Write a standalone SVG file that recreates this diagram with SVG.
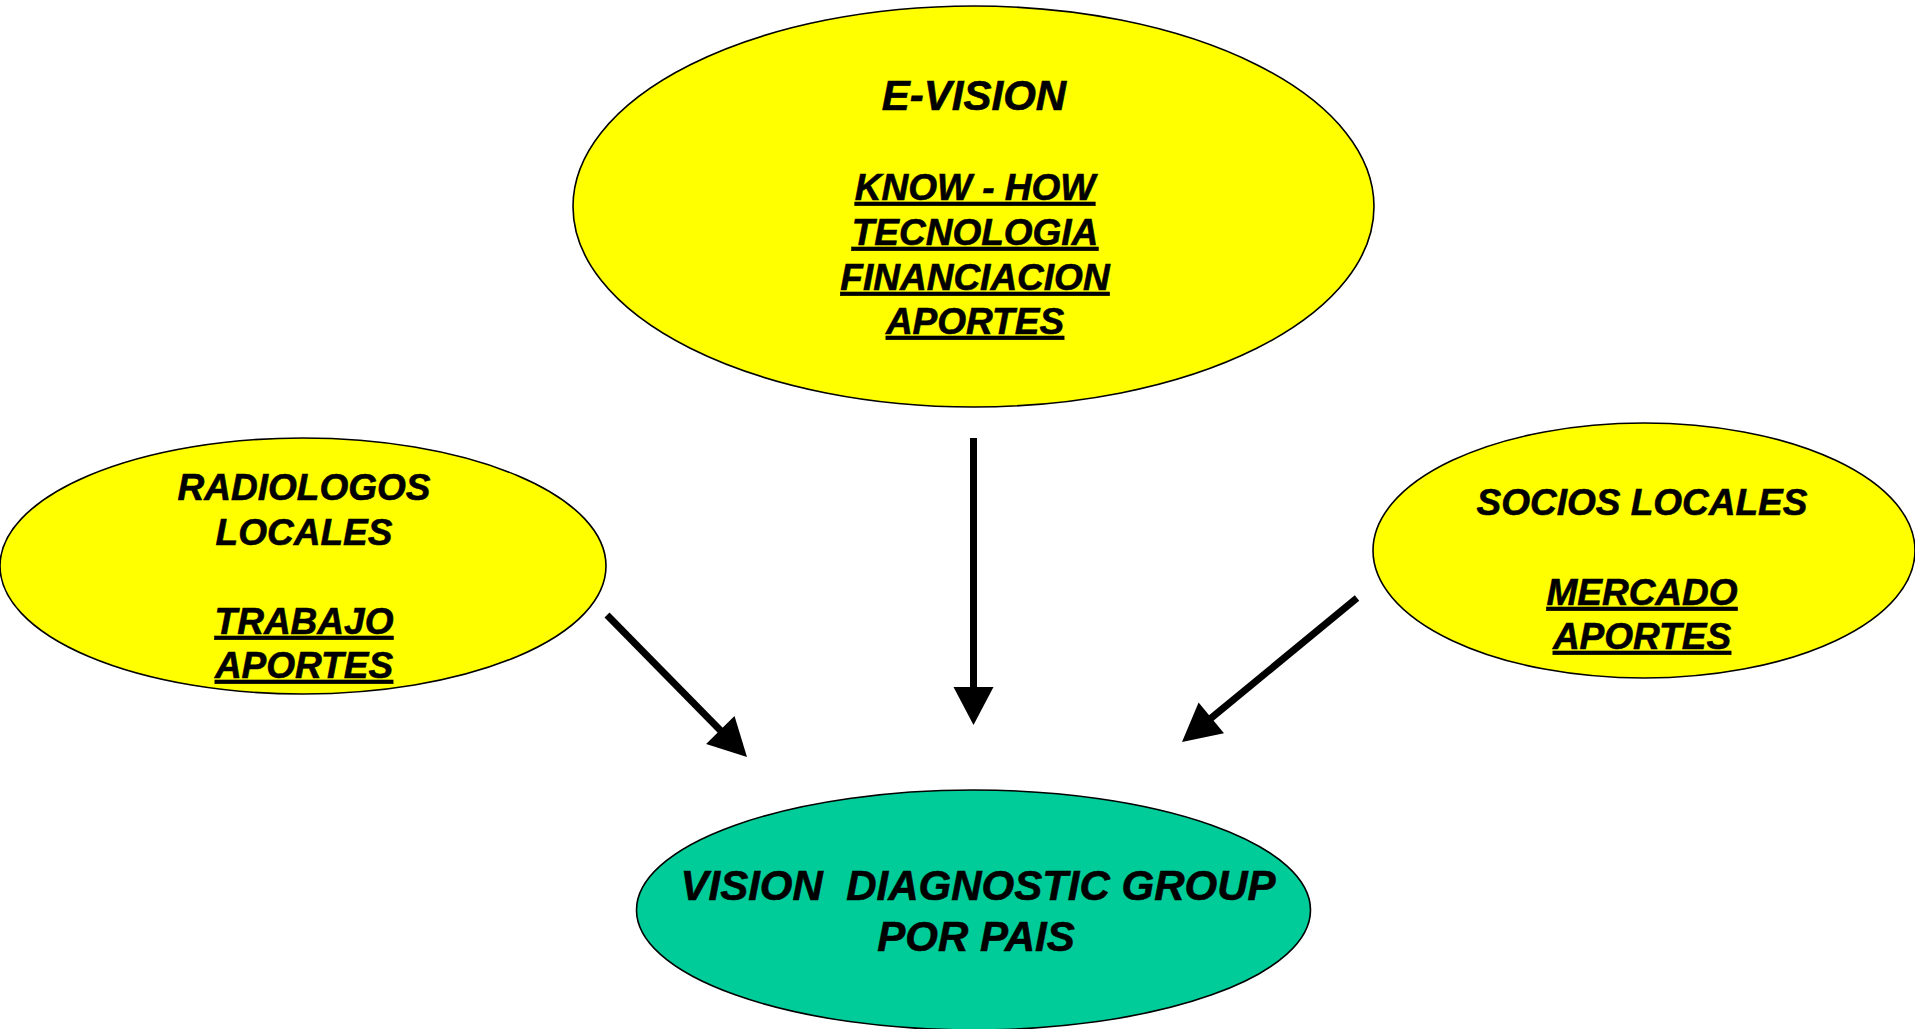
<svg xmlns="http://www.w3.org/2000/svg" width="1915" height="1029" viewBox="0 0 1915 1029">
<style>
.node ellipse { stroke: #000; stroke-width: 1.6; }
.y { fill: #FFFF00; }
.g { fill: #00CC99; }
text { font-family: "Liberation Sans", Arial, sans-serif; font-weight: bold; font-style: italic; fill: #000; stroke: #000; stroke-width: 0.6; text-anchor: middle; white-space: pre; }
.s37 { font-size: 37px; }
.s42 { font-size: 42px; }
.u { text-decoration: underline; }
.conn line { stroke: #000; stroke-width: 7; }
.conn polygon { fill: #000; }
</style>
<rect width="1915" height="1029" fill="#fff"/>
<g id="connectors" class="conn">
  <line x1="973.5" y1="438" x2="973.5" y2="688"/>
  <polygon points="953.5,687 993.5,687 973.5,725"/>
  <line x1="607" y1="615" x2="721" y2="731"/>
  <polygon points="706.1,743.9 734.5,715.9 747,757"/>
  <line x1="1357" y1="598" x2="1210" y2="719"/>
  <polygon points="1198.6,702.5 1224,733.3 1182,742"/>
</g>
<g id="evision" class="node">
  <ellipse class="y" cx="973.5" cy="206.5" rx="400.5" ry="200.5"/>
  <text class="s42" x="974" y="110">E-VISION</text>
  <text class="s37 u" x="975" y="200">KNOW - HOW</text>
  <text class="s37 u" x="975" y="245">TECNOLOGIA</text>
  <text class="s37 u" x="975" y="290">FINANCIACION</text>
  <text class="s37 u" x="975" y="334">APORTES</text>
</g>
<g id="radiologos" class="node">
  <ellipse class="y" cx="303" cy="566" rx="303" ry="128"/>
  <text class="s37" x="304" y="500">RADIOLOGOS</text>
  <text class="s37" x="304" y="545">LOCALES</text>
  <text class="s37 u" x="304" y="634">TRABAJO</text>
  <text class="s37 u" x="304" y="678">APORTES</text>
</g>
<g id="socios" class="node">
  <ellipse class="y" cx="1644" cy="550.5" rx="271" ry="127.5"/>
  <text class="s37" x="1642" y="515">SOCIOS LOCALES</text>
  <text class="s37 u" x="1642" y="605">MERCADO</text>
  <text class="s37 u" x="1642" y="649">APORTES</text>
</g>
<g id="vdg" class="node">
  <ellipse class="g" cx="973.5" cy="910" rx="337" ry="120"/>
  <text class="s42" x="978" y="900">VISION  DIAGNOSTIC GROUP</text>
  <text class="s42" x="976" y="951">POR PAIS</text>
</g>
</svg>
